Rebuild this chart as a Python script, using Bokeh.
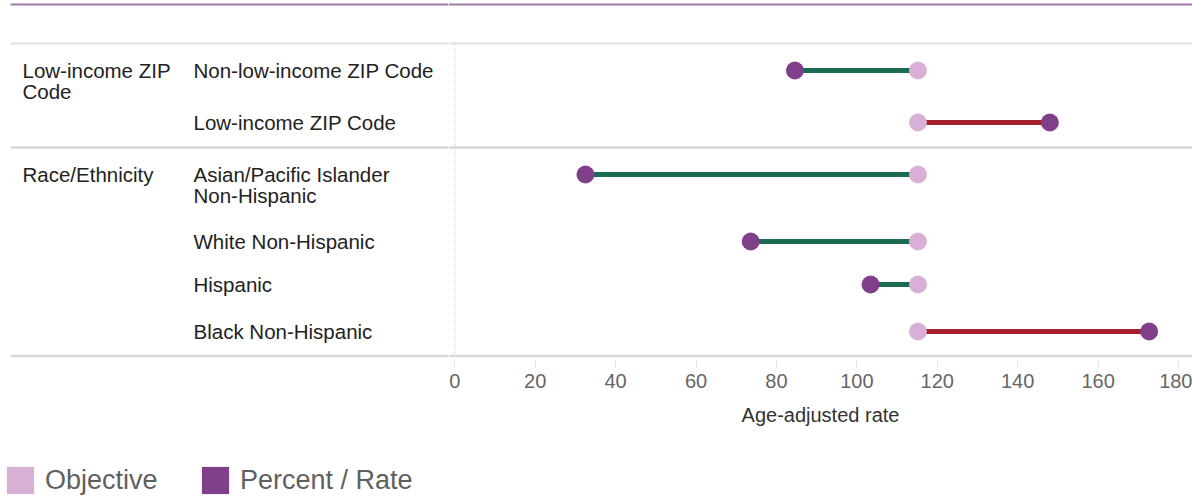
from bokeh.plotting import figure
from bokeh.models import Range1d, ColumnDataSource, Span, FixedTicker, Legend, LegendItem
from bokeh.layouts import column, row
from bokeh.embed import file_html
from bokeh.resources import INLINE
from bokeh.core.properties import value

# ---------------- data ----------------
group_labels = ["Low-income ZIP\nCode", "Race/Ethnicity"]
group_first_row = [0, 2]
subgroups = ["Non-low-income ZIP Code", "Low-income ZIP Code",
             "Asian/Pacific Islander\nNon-Hispanic", "White Non-Hispanic",
             "Hispanic", "Black Non-Hispanic"]
rate = [84.6, 148.0, 32.5, 73.6, 103.4, 172.7]
objective = [115.2, 115.2, 115.2, 115.2, 115.2, 115.2]
x_ticks = [0, 20, 40, 60, 80, 100, 120, 140, 160, 180]
axis_title = "Age-adjusted rate"
legend_labels = ["Objective", "Percent / Rate"]

# ---------------- style / layout ----------------
FONT = "Liberation Sans"
PURPLE = "#7f3f8a"
PINK = "#d9b0d5"
GREEN = "#1b6b52"
RED = "#a71e2d"
RULE = "#d9d9d9"
TOP_RULE = "#a07aab"

LEFT_W = 448
RIGHT_W = 744
TOP_H = 440
FRAME_H = 360
LEG_H = 57
PX_PER_UNIT = 4.0206
X_START = -6.3 / PX_PER_UNIT
X_END = X_START + RIGHT_W / PX_PER_UNIT

ROW_Y = [70, 122, 174, 241, 284, 331]   # row centres (px from top of frame)
TOP_Y = 4
HEADER_Y = 43
SEP_Y = 147
BOTTOM_Y = 355.5
GROUP_X = 22
SUB_X = 193
TEXT_DY = 12
RULE_X0 = 10

# ---------------- right (chart) figure ----------------
p = figure(width=RIGHT_W, height=TOP_H, x_range=Range1d(X_START, X_END),
           y_range=Range1d(FRAME_H, 0), output_backend="svg", toolbar_location=None,
           y_axis_location=None, min_border_left=0, min_border_right=0,
           min_border_top=0, min_border_bottom=TOP_H - FRAME_H)
p.outline_line_color = None
p.grid.visible = False
p.background_fill_color = "white"
p.border_fill_color = "white"

seg_colors = [GREEN if r < o else RED for r, o in zip(rate, objective)]
src = ColumnDataSource(dict(rate=rate, objective=objective, y=ROW_Y, color=seg_colors))

p.segment(x0=0, y0=HEADER_Y, x1=0, y1=BOTTOM_Y, line_color="#cfcfcf", line_width=1,
          line_dash="2 2")
p.segment(x0="objective", y0="y", x1="rate", y1="y", source=src, line_color="color",
          line_width=5, line_cap="butt")
p.scatter(x="objective", y="y", source=src, size=18, marker="circle",
          fill_color=PINK, line_color=None)
p.scatter(x="rate", y="y", source=src, size=18, marker="circle",
          fill_color=PURPLE, line_color=None)

ax = p.xaxis[0]
ax.ticker = FixedTicker(ticks=x_ticks)
ax.axis_line_color = None
ax.major_tick_line_color = "#e3e3e3"
ax.major_tick_out = 7
ax.major_tick_in = 0
ax.minor_tick_line_color = None
ax.major_label_text_font = FONT
ax.major_label_text_font_size = "20px"
ax.major_label_text_color = "#666666"
ax.major_label_standoff = 6
ax.axis_label = axis_title
ax.axis_label_text_font = FONT
ax.axis_label_text_font_size = "20px"
ax.axis_label_text_font_style = "normal"
ax.axis_label_text_color = "#333333"
ax.axis_label_standoff = 13

for loc, col, w in [(TOP_Y, TOP_RULE, 2), (HEADER_Y, "#e0e0e0", 2),
                    (SEP_Y, RULE, 2.5), (BOTTOM_Y, RULE, 2.5)]:
    p.add_layout(Span(location=loc, dimension="width", line_color=col, line_width=w))

# ---------------- left (table) figure ----------------
q = figure(width=LEFT_W, height=TOP_H, x_range=Range1d(0, LEFT_W), y_range=p.y_range,
           output_backend="svg", toolbar_location=None, x_axis_location=None,
           y_axis_location=None, min_border_left=0, min_border_right=0,
           min_border_top=0, min_border_bottom=TOP_H - FRAME_H)
q.outline_line_color = None
q.grid.visible = False
q.background_fill_color = "white"
q.border_fill_color = "white"

q.text(x=[GROUP_X] * len(group_labels), y=[ROW_Y[i] - TEXT_DY for i in group_first_row],
       text=group_labels, text_font=value(FONT), text_font_size="20.5px",
       text_color="#222222", text_baseline="top", text_align="left", text_line_height=0.95)
q.text(x=[SUB_X] * len(subgroups), y=[y - TEXT_DY for y in ROW_Y], text=subgroups,
       text_font=value(FONT), text_font_size="20.5px", text_color="#222222",
       text_baseline="top", text_align="left", text_line_height=0.95)

rules_y = [TOP_Y, HEADER_Y, SEP_Y, BOTTOM_Y]
rules_c = [TOP_RULE, "#e0e0e0", RULE, RULE]
rules_w = [2, 2, 2.5, 2.5]
q.segment(x0=[RULE_X0] * 4, x1=[LEFT_W + 2] * 4, y0=rules_y, y1=rules_y,
          line_color=rules_c, line_width=rules_w, line_cap="butt")

# ---------------- legend figure ----------------
lg = figure(width=LEFT_W + RIGHT_W, height=LEG_H, x_range=Range1d(0, 1), y_range=Range1d(0, 1),
            output_backend="svg", toolbar_location=None, x_axis_location=None,
            y_axis_location=None, min_border=0)
lg.outline_line_color = None
lg.grid.visible = False
# zero-area proxies: they only supply the swatches of the legend
proxy = ColumnDataSource(dict(l=[0], r=[0], t=[0], b=[0]))
r_obj = lg.quad(left="l", right="r", top="t", bottom="b", source=proxy,
                fill_color=PINK, line_color=None)
r_rate = lg.quad(left="l", right="r", top="t", bottom="b", source=proxy,
                 fill_color=PURPLE, line_color=None)

for lbl, rend, loc in zip(legend_labels, [r_obj, r_rate], [(3, 0), (198, 0)]):
    leg = Legend(items=[LegendItem(label=lbl, renderers=[rend])], location=loc,
                 orientation="horizontal", border_line_color=None,
                 background_fill_alpha=0, padding=0, margin=0, glyph_width=34,
                 glyph_height=34, label_standoff=8, label_text_font=FONT,
                 label_text_font_size="27px", label_text_color="#5f5f5f")
    lg.add_layout(leg)

layout = column(row(q, p, spacing=0), lg, spacing=0)
open("out.html", "w").write(file_html(layout, INLINE))
